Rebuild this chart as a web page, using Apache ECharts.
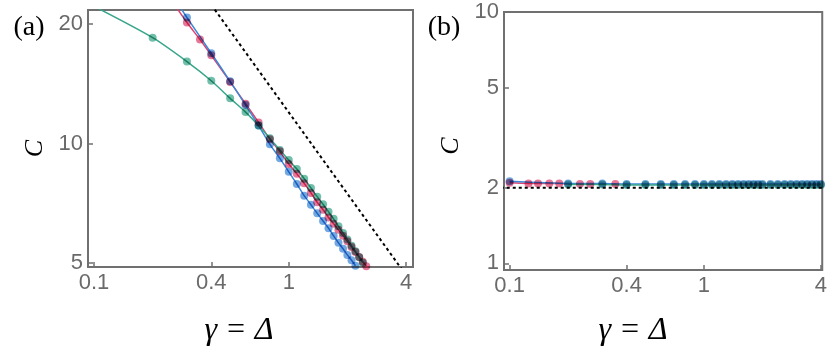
<!DOCTYPE html>
<html>
<head>
<meta charset="utf-8">
<script src="https://cdn.jsdelivr.net/npm/echarts@6/dist/echarts.min.js"></script>
<style>
html, body { margin: 0; padding: 0; background: #fff; }
#chart { width: 830px; height: 350px; }
</style>
</head>
<body>
<div id="chart"></div>
<script>
// tick labels (real values, axes are log10)
const xTicks = [0.1, 0.4, 1, 4];
const yTicksA = [5, 10, 20];
const yTicksB = [1, 2, 5, 10];

// panel (a)
const redXA = [0.25, 0.3, 0.35, 0.4, 0.5, 0.6, 0.7, 0.8, 0.9, 1.0, 1.1, 1.2, 1.3, 1.4, 1.5, 1.6, 1.7, 1.8, 1.9, 2.0, 2.1, 2.2, 2.3, 2.4, 2.5, 2.6];
const redCA = [23.0, 20.2, 18.3, 16.7, 14.3, 12.6, 11.3, 10.25, 9.55, 8.87, 8.38, 7.93, 7.5, 7.1, 6.8, 6.5, 6.27, 6.05, 5.85, 5.66, 5.48, 5.32, 5.17, 5.03, 4.9, 4.77];
const blueXA = [0.25, 0.3, 0.4, 0.5, 0.6, 0.7, 0.8, 0.9, 1.0, 1.1, 1.2, 1.3, 1.4, 1.5, 1.6, 1.7, 1.8, 1.9, 2.0, 2.1, 2.2];
const blueCA = [23.8, 20.8, 16.9, 14.35, 12.5, 11.1, 9.95, 9.17, 8.48, 7.9, 7.38, 7.0, 6.66, 6.37, 6.11, 5.84, 5.61, 5.42, 5.23, 5.07, 4.91];
const greenXA = [0.1, 0.2, 0.3, 0.4, 0.5, 0.6, 0.7, 0.8, 0.9, 1.0, 1.1, 1.2, 1.3, 1.4, 1.5, 1.6, 1.7, 1.8, 1.9, 2.0, 2.1, 2.2, 2.3, 2.4];
const greenCA = [22.2, 18.5, 16.1, 14.4, 13.0, 12.0, 11.1, 10.3, 9.62, 9.08, 8.62, 8.15, 7.72, 7.34, 7.02, 6.72, 6.45, 6.18, 5.94, 5.72, 5.52, 5.34, 5.16, 5.0];
const dashXA = [0.4, 4];
const dashCA = [22.4, 4.65];

// panel (b)
const redXB = [0.1, 0.125, 0.14, 0.16, 0.18, 0.23, 0.26, 0.35];
const redCB = [2.09, 2.08, 2.08, 2.08, 2.08, 2.07, 2.07, 2.07];
const blueXB = [0.1, 0.2, 0.3, 0.4, 0.5, 0.6, 0.7, 0.8, 0.9, 1.0, 1.1, 1.2, 1.3, 1.4, 1.5, 1.6, 1.7, 1.8, 1.9, 2.0, 2.2, 2.4, 2.6, 2.8, 3.0, 3.2, 3.4, 3.6, 3.8, 4.0];
const blueCB = [2.12, 2.08, 2.08, 2.07, 2.07, 2.07, 2.07, 2.07, 2.07, 2.07, 2.07, 2.07, 2.07, 2.07, 2.07, 2.07, 2.07, 2.07, 2.07, 2.07, 2.07, 2.07, 2.07, 2.07, 2.07, 2.07, 2.07, 2.07, 2.07, 2.07];
const greenXB = [0.2, 0.3, 0.4, 0.5, 0.6, 0.7, 0.8, 0.9, 1.0, 1.1, 1.2, 1.3, 1.4, 1.5, 1.6, 1.7, 1.8, 1.9, 2.0, 2.2, 2.4, 2.6, 2.8, 3.0, 3.2, 3.4, 3.6, 3.8, 4.0];
const greenCB = [2.06, 2.06, 2.05, 2.05, 2.05, 2.05, 2.05, 2.05, 2.05, 2.05, 2.05, 2.05, 2.05, 2.05, 2.05, 2.05, 2.05, 2.05, 2.05, 2.05, 2.05, 2.05, 2.05, 2.05, 2.05, 2.05, 2.05, 2.05, 2.05];
const dashXB = [0.09, 4.2];
const dashCB = [2, 2];

const RED = '#dc4372', BLUE = '#3d88d6', GREEN = '#38a68a';
const GRAY = '#707070';

const lg = (xs, ys) => xs.map((x, i) => [Math.log10(x), Math.log10(ys[i])]);
const logs = (arr) => arr.map(v => Math.log10(v));
const fmt = (v) => String(+Math.pow(10, v).toPrecision(3));

const tickLabel = { color: '#6a6a6a', fontSize: 22, fontFamily: 'Liberation Sans' };

const xAxisFor = (idx, min, max) => ({
    type: 'value', gridIndex: idx, min: min, max: max,
    axisLine: { show: false, onZero: false },
    splitLine: { show: false },
    axisTick: { inside: true, length: 5, customValues: logs(xTicks), lineStyle: { color: GRAY, width: 1.5 } },
    axisLabel: Object.assign({ customValues: logs(xTicks), formatter: fmt, margin: 5 }, tickLabel)
});
const yAxisFor = (idx, min, max, ticks, pad) => ({
    type: 'value', gridIndex: idx, min: min, max: max,
    name: 'C', nameLocation: 'middle', nameRotate: 90, nameGap: 40,
    nameTextStyle: { color: '#000', fontSize: 26, fontStyle: 'italic', fontFamily: 'Liberation Serif', padding: [0, pad, 0, 0] },
    axisLine: { show: false, onZero: false },
    splitLine: { show: false },
    axisTick: { inside: true, length: 5, customValues: logs(ticks), lineStyle: { color: GRAY, width: 1.5 } },
    axisLabel: Object.assign({ customValues: logs(ticks), formatter: fmt, margin: 5 }, tickLabel)
});

const curveSeries = (idx, xs, ys, color) => ({
    type: 'line', xAxisIndex: idx, yAxisIndex: idx,
    data: lg(xs, ys),
    smooth: 0.25, symbol: 'none',
    lineStyle: { color: color, width: 1.5 },
    z: 2
});
const dotSeries = (idx, xs, ys, color) => ({
    type: 'scatter', xAxisIndex: idx, yAxisIndex: idx,
    data: lg(xs, ys),
    symbol: 'circle', symbolSize: 8,
    itemStyle: { color: color, opacity: 0.72 },
    blendMode: 'multiply',
    z: 3
});
const dashSeries = (idx, xs, ys) => ({
    type: 'line', xAxisIndex: idx, yAxisIndex: idx,
    data: lg(xs, ys), symbol: 'none',
    lineStyle: { color: '#000', width: 2, type: [3, 3] },
    z: 4
});

const textEl = (x, y, text, font) => ({
    type: 'text', x: x, y: y,
    style: { text: text, font: font, fill: '#000', align: 'center', verticalAlign: 'middle' }
});

const chart = echarts.init(document.getElementById('chart'));
chart.setOption({
    animation: false,
    grid: [
        { left: 88, top: 10, width: 325, height: 257, show: true, borderColor: GRAY, borderWidth: 2, backgroundColor: 'transparent' },
        { left: 504, top: 12, width: 319, height: 258, show: true, borderColor: GRAY, borderWidth: 2, backgroundColor: 'transparent' }
    ],
    xAxis: [
        xAxisFor(0, -1.031, 0.638),
        xAxisFor(1, -1.029, 0.609)
    ],
    yAxis: [
        yAxisFor(0, 0.688, 1.337, yTicksA, 20),
        yAxisFor(1, -0.0266, 1, yTicksB, 10)
    ],
    series: [
        curveSeries(0, redXA, redCA, RED),
        curveSeries(0, blueXA, blueCA, BLUE),
        curveSeries(0, greenXA, greenCA, GREEN),
        dotSeries(0, redXA, redCA, RED),
        dotSeries(0, blueXA, blueCA, BLUE),
        dotSeries(0, greenXA, greenCA, GREEN),
        dashSeries(0, dashXA, dashCA),
        curveSeries(1, redXB, redCB, RED),
        curveSeries(1, blueXB, blueCB, BLUE),
        curveSeries(1, greenXB, greenCB, GREEN),
        dotSeries(1, redXB, redCB, RED),
        dotSeries(1, blueXB, blueCB, BLUE),
        dotSeries(1, greenXB, greenCB, GREEN),
        dashSeries(1, dashXB, dashCB)
    ],
    graphic: [
        textEl(29, 28, '(a)', '28px "Liberation Serif"'),
        textEl(444, 28, '(b)', '28px "Liberation Serif"'),
        textEl(239, 331, 'γ = Δ', 'italic 32px "Liberation Serif"'),
        textEl(633, 331, 'γ = Δ', 'italic 32px "Liberation Serif"')
    ]
});
</script>
</body>
</html>
